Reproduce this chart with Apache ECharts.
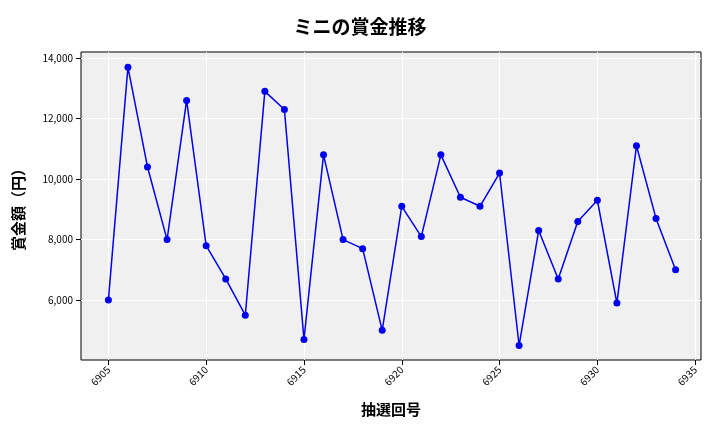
<!DOCTYPE html>
<html><head><meta charset="utf-8">
<script src="https://cdn.jsdelivr.net/npm/echarts@6/dist/echarts.min.js"></script>
<style>body{margin:0}#c{width:720px;height:432px}</style></head>
<body><div id="c"></div>
<script>
const draws = [6905,6906,6907,6908,6909,6910,6911,6912,6913,6914,6915,6916,6917,6918,6919,6920,6921,6922,6923,6924,6925,6926,6927,6928,6929,6930,6931,6932,6933,6934]
const prizes = [6000,13700,10400,8000,12600,7800,6700,5500,12900,12300,4700,10800,8000,7700,5000,9100,8100,10800,9400,9100,10200,4500,8300,6700,8600,9300,5900,11100,8700,7000]
const xTicks = [6905,6910,6915,6920,6925,6930,6935]
const yTicks = [6000,8000,10000,12000,14000]
const font = "Noto Sans CJK JP"
const chart = echarts.init(document.getElementById("c"), null, {renderer: "canvas"})
chart.setOption({
  textStyle: {fontFamily: font},
  title: {text: "ミニの賞金推移", left: "center", top: 12, textStyle: {fontFamily: font, fontSize: 19, fontWeight: "bold", color: "#000"}},
  grid: {left: 81, right: 19, top: 52, bottom: 72, show: true, backgroundColor: "#f0f0f0", borderColor: "#000", borderWidth: 1},
  xAxis: {
    type: "value", min: 6903.6, max: 6935.3,
    name: "抽選回号", nameLocation: "middle", nameGap: 42, nameTextStyle: {fontFamily: font, fontSize: 15, fontWeight: "bold", color: "#000"},
    axisLine: {show: false},
    axisTick: {show: true, customValues: xTicks, lineStyle: {color: "#000"}},
    axisLabel: {customValues: xTicks, rotate: 45, fontSize: 10, color: "#000", formatter: v => String(v)},
    splitLine: {show: true, lineStyle: {color: "#fff"}}
  },
  yAxis: {
    type: "value", min: 4020, max: 14200,
    name: "賞金額（円）", nameLocation: "middle", nameGap: 55, nameTextStyle: {fontFamily: font, fontSize: 15, fontWeight: "bold", color: "#000"},
    axisLine: {show: false},
    axisTick: {show: true, customValues: yTicks, lineStyle: {color: "#000"}},
    axisLabel: {customValues: yTicks, fontSize: 10, color: "#000", formatter: v => v.toLocaleString("en-US")},
    splitLine: {show: true, lineStyle: {color: "#fff"}}
  },
  series: [{
    type: "line", data: draws.map((d, i) => [d, prizes[i]]),
    symbol: "circle", symbolSize: 7,
    lineStyle: {color: "#0000ee", width: 1.5}, itemStyle: {color: "#0000ee"}
  }]
})
</script></body></html>
